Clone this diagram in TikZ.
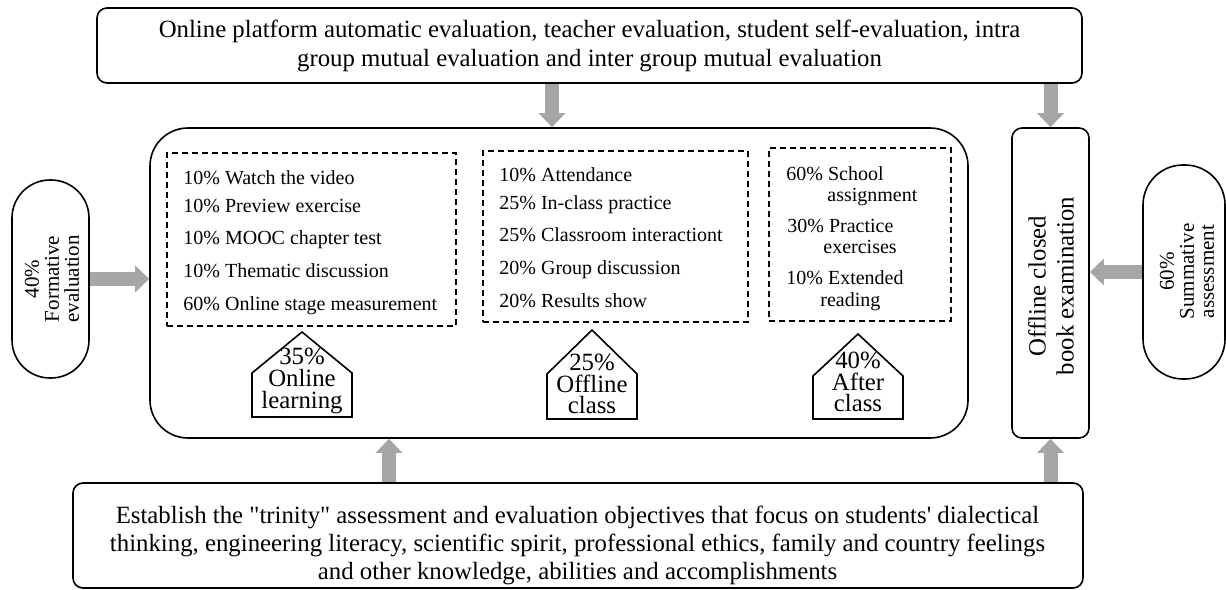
\documentclass[tikz,border=0pt]{standalone}
\usepackage{fontspec}
\setmainfont{Liberation Serif}
\usetikzlibrary{arrows.meta}
\definecolor{arrowgray}{HTML}{A6A6A6}

% house-shaped label: name, centre x, half width, peak y, shoulder y, base y, text, text y
\newcommand\drawhouse[8]{%
  \draw[line width=0.8pt] (#2-#3,#6) -- (#2-#3,#5) -- (#2,#4) -- (#2+#3,#5) -- (#2+#3,#6) -- cycle;
  \node[houselabel] (#1) at (#2,#8) {#7};}

\begin{document}
\begin{tikzpicture}[x=0.5pt,y=-0.5pt,
  box/.style={draw, line width=0.8pt, rounded corners=5pt, inner sep=0pt},
  dashbox/.style={draw, line width=0.6pt, dash pattern=on 3pt off 2pt, inner sep=0pt},
  flow/.style={draw=arrowgray, line width=7pt, -{Triangle[width=13pt,length=7pt]}},
  bigtext/.style={font=\fontsize{12.4}{14.5}\selectfont, align=center, inner sep=0pt},
  sidetext/.style={font=\fontsize{10.5}{10}\selectfont, align=center, rotate=90, inner sep=0pt},
  item/.style={font=\fontsize{10}{12}\selectfont, anchor=base west, inner sep=0pt},
  houselabel/.style={font=\fontsize{12.4}{10.9}\selectfont, align=center, inner sep=0pt}]

\path[use as bounding box] (0,0) rectangle (1226,589);

% evaluation subjects
\node[box, minimum width=492.5pt, minimum height=37.5pt, bigtext] (top) at (589.5,45.5)
  {Online platform automatic evaluation, teacher evaluation, student self-evaluation, intra\\group mutual evaluation and inter group mutual evaluation};

% formative part
\node[box, rounded corners=19pt, minimum width=409pt, minimum height=155pt] (main) at (559,283) {};

\node[box, rounded corners=19pt, minimum width=38.5pt, minimum height=99pt] (form) at (50.5,279) {};
\node[sidetext] (formtext) at (52,279) {40\%\\Formative\\evaluation};

% summative part
\node[box, minimum width=38.5pt, minimum height=155pt] (exam) at (1050.5,283) {};
\node[bigtext, rotate=90, font=\fontsize{12.4}{14}\selectfont] (examtext) at (1051,286) {Offline closed\\book examination};

\node[box, rounded corners=20pt, minimum width=41pt, minimum height=107pt] (summ) at (1184,272) {};
\node[sidetext] (summtext) at (1187,271.5) {60\%\\Summative\\assessment};

% objectives
\node[box, minimum width=505pt, minimum height=52.5pt] (goal) at (578,535.5) {};
\node[bigtext, font=\fontsize{12.4}{14}\selectfont] (goaltext) at (577.5,545)
  {Establish the \textquotedbl trinity\textquotedbl{} assessment and evaluation objectives that focus on students\textquotesingle{} dialectical\\
   thinking, engineering literacy, scientific spirit, professional ethics, family and country feelings\\
   and other knowledge, abilities and accomplishments};

% item lists
\node[dashbox, minimum width=144.5pt, minimum height=86.5pt] (online) at (311.5,239.5) {};
\node[dashbox, minimum width=132.5pt, minimum height=85.5pt] (offline) at (615.5,236.5) {};
\node[dashbox, minimum width=91pt, minimum height=86.5pt] (after) at (860,234.5) {};

\foreach \t/\y [count=\i] in {{10\% Watch the video}/184, {10\% Preview exercise}/212,
    {10\% MOOC chapter test}/244, {10\% Thematic discussion}/277, {60\% Online stage measurement}/310}
  \node[item] (on\i) at (183,\y) {\t};

\foreach \t/\y [count=\i] in {{10\% Attendance}/181, {25\% In-class practice}/209,
    {25\% Classroom interactiont}/241, {20\% Group discussion}/274, {20\% Results show}/307}
  \node[item] (off\i) at (499,\y) {\t};

\foreach \t/\x/\y [count=\i] in {{60\% School}/786/180, {assignment}/827/201,
    {30\% Practice}/787/232, {exercises}/823/253, {10\% Extended}/786/284, {reading}/820/306}
  \node[item] (aft\i) at (\x,\y) {\t};

% stage weights
\drawhouse{h1}{302}{50}{332}{373}{417}{35\%\\Online\\learning}{381}
\drawhouse{h2}{592}{45}{330}{374}{419}{25\%\\Offline\\class}{384}
\drawhouse{h3}{858}{45}{334}{376}{419}{40\%\\After\\class}{382}

% connectors
\coordinate (ax1) at (552,0);
\coordinate (ax2) at (389,0);
\draw[flow] (ax1 |- top.south) -- (ax1 |- main.north);
\draw[flow] (exam.north |- top.south) -- (exam.north);
\draw[flow] (ax2 |- goal.north) -- (ax2 |- main.south);
\draw[flow] (exam.south |- goal.north) -- (exam.south);
\draw[flow] (form.east) -- (main.west |- form.east);
\draw[flow] (summ.west) -- (exam.east |- summ.west);
\end{tikzpicture}
\end{document}
